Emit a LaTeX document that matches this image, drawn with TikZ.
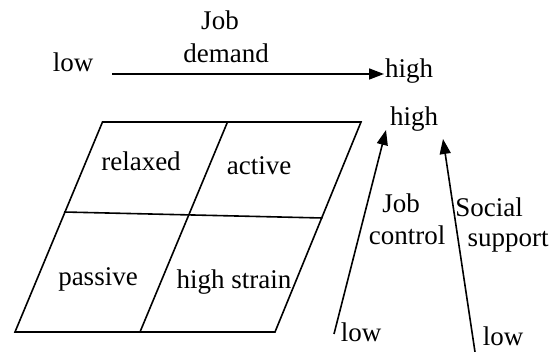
\documentclass[tikz,border=0pt]{standalone}
\usepackage{fontspec}
\setmainfont{Liberation Serif}
\usetikzlibrary{arrows.meta}

\begin{document}
\begin{tikzpicture}[x=1pt, y=-1pt, line width=1.6pt, >={Triangle[length=15pt, width=11pt]},
  lbl/.style={anchor=base, inner sep=0pt, font=\fontsize{27}{30}\selectfont}]
  \useasboundingbox (0,0) rectangle (556,352);
  % grid of the four job types
  \coordinate (tl) at (102.5,122);
  \coordinate (tr) at (361,122);
  \coordinate (bl) at (15,332);
  \coordinate (br) at (275,332);
  \coordinate (ml) at (64,212);
  \coordinate (mr) at (322.5,218);
  \coordinate (mt) at (227.5,122);
  \coordinate (mb) at (140,332);
  \draw (tl) -- (tr) -- (br) -- (bl) -- cycle;
  \draw (ml) -- (mr);
  \draw (mt) -- (mb);
  \node[lbl] (relaxed) at (141,171) {relaxed};
  \node[lbl] (active) at (259,175) {active};
  \node[lbl] (passive) at (98,285) {passive};
  \node[lbl] (strain) at (234,288) {high strain};
  % job demand axis
  \coordinate (dStart) at (112,74);
  \coordinate (dEnd) at (384,74);
  \draw[->] (dStart) -- (dEnd);
  \node[lbl] (dLow) at (73,72) {low};
  \node[lbl] (dJob) at (220,30) {Job};
  \node[lbl] (dName) at (226,63) {demand};
  \node[lbl] (dHigh) at (409,78) {high};
  % job control axis
  \coordinate (cStart) at (334,334);
  \coordinate (cEnd) at (386,130);
  \draw[->] (cStart) -- (cEnd);
  \node[lbl] (cHigh) at (414,126) {high};
  \node[lbl] (cJob) at (401,213) {Job};
  \node[lbl] (cName) at (407,245) {control};
  \node[lbl] (cLow) at (361,341) {low};
  % social support axis
  \coordinate (sStart) at (475,352);
  \coordinate (sEnd) at (443,139);
  \draw[->] (sStart) -- (sEnd);
  \node[lbl] (sSoc) at (489,217) {Social};
  \node[lbl] (sName) at (508,247) {support};
  \node[lbl] (sLow) at (503,345) {low};
\end{tikzpicture}
\end{document}
